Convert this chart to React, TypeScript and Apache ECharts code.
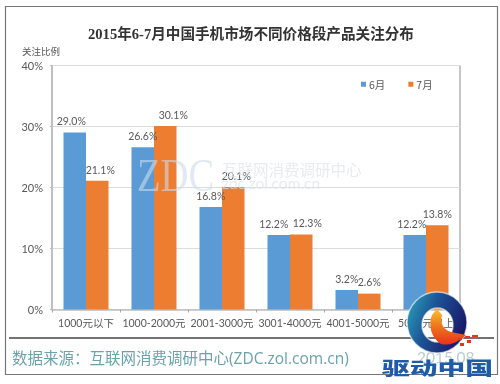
import React, { useEffect, useRef } from "react";
import * as echarts from "echarts";

const categories = ["1000元以下", "1000-2000元", "2001-3000元", "3001-4000元", "4001-5000元", "5000元以上"];
const june = [29.0, 26.6, 16.8, 12.2, 3.2, 12.2];
const july = [21.1, 30.1, 20.1, 12.3, 2.6, 13.8];
const yTicks = [0, 10, 20, 30, 40];
const juneLabelShift = [-3.5, 0, 0, -5, 0, -3];
const julyLabelShift = [3, 8, 3, 6, 0, 0];

const LATIN = 'Lato, "Noto Sans CJK SC", sans-serif';
const CJK = '"Noto Sans CJK SC", sans-serif';

const ringPath =
  "M407 322.5 A30 30.5 0 1 1 467 322.5 A30 30.5 0 1 1 407 322.5 Z M422 325 A15.5 17 0 1 0 453 325 A15.5 17 0 1 0 422 325 Z";
const birdPath =
  "M437 309 L442 315 C440 322 442 329 451 332 L466 335 C458 343 448 346 441 344 C431 338 428 325 432 315 Z";
const dotsPath =
  "M458 338h4v2h-4z M465 336h5v2h-5z M472 335h6v2h-6z M460 343h4v3h-4z M467 340h4v3h-4z";
echarts.graphic.registerShape("qRing", echarts.graphic.extendPath(ringPath, {}) as any);
echarts.graphic.registerShape("qBird", echarts.graphic.extendPath(birdPath, {}) as any);
echarts.graphic.registerShape("qDots", echarts.graphic.extendPath(dotsPath, {}) as any);

function series(name: string, values: number[], shift: number[], color: string) {
  return {
    name,
    type: "bar",
    barWidth: 22.5,
    barGap: "0%",
    itemStyle: { color },
    data: values.map((value, i) => ({
      value,
      label: { offset: [shift[i], -1] },
    })),
    label: {
      show: true,
      position: "top",
      distance: 5,
      color: "#595959",
      fontFamily: LATIN,
      fontSize: 10.5,
      formatter: (p: any) => `${Number(p.value).toFixed(1)}%`,
    },
  };
}

export default function App() {
  const ref = useRef<HTMLDivElement>(null);
  useEffect(() => {
    document.body.style.margin = "0";
    const chart = echarts.init(ref.current!, undefined, { renderer: "svg" });
    chart.setOption({
      animation: false,
      backgroundColor: "#fff",
      title: {
        text: "2015年6-7月中国手机市场不同价格段产品关注分布",
        left: 83,
        top: 22,
        textStyle: {
          fontFamily: '"Liberation Serif", "Noto Sans CJK SC", serif',
          fontSize: 14.6,
          fontWeight: "bold",
          color: "#333",
        },
      },
      legend: {
        left: 356,
        top: 74,
        icon: "rect",
        itemWidth: 5,
        itemHeight: 5,
        itemGap: 23,
        textStyle: { fontFamily: CJK, fontSize: 10.5, color: "#595959", padding: [0, 0, 0, -2] },
        data: ["6月", "7月"],
      },
      grid: {
        left: 52,
        right: 40,
        top: 65.5,
        bottom: 74.5,
        show: true,
        borderColor: "#8c8c8c",
        borderWidth: 1,
      },
      xAxis: {
        type: "category",
        data: categories,
        axisLine: { lineStyle: { color: "#bdbdbd", width: 1.5 } },
        axisTick: { show: true, length: 3, lineStyle: { color: "#a6a6a6" } },
        axisLabel: { color: "#595959", fontFamily: LATIN, fontSize: 10.5, margin: 8, interval: 0 },
      },
      yAxis: {
        type: "value",
        min: yTicks[0],
        max: yTicks[yTicks.length - 1],
        interval: 10,
        name: "关注比例",
        nameGap: 10,
        nameTextStyle: { color: "#595959", fontFamily: CJK, fontSize: 9.5, padding: [0, 22, 0, 0] },
        axisLine: { show: true, lineStyle: { color: "#bdbdbd", width: 1.5 } },
        axisTick: { show: true, length: 2, lineStyle: { color: "#bdbdbd" } },
        splitLine: { lineStyle: { color: "#dcdcdc", width: 1 } },
        axisLabel: {
          color: "#595959",
          fontFamily: LATIN,
          fontSize: 11,
          margin: 9,
          formatter: "{value}%",
        },
      },
      series: [
        series("6月", june, juneLabelShift, "#5b9bd5"),
        series("7月", july, julyLabelShift, "#ed7d31"),
      ],
      graphic: [
        {
          type: "rect",
          z: 0,
          shape: { x: 5.5, y: 6.5, width: 492, height: 368 },
          style: { fill: "none", stroke: "#777", lineWidth: 1.2 },
        },
        {
          type: "line",
          z: 0,
          shape: { x1: 9, y1: 338, x2: 494, y2: 338 },
          style: { stroke: "#444", lineWidth: 1.5 },
        },
        {
          type: "text",
          z: 0,
          x: 12,
          y: 350,
          style: {
            text: "数据来源：互联网消费调研中心(ZDC.zol.com.cn)",
            fontFamily: '"Open Sans", "Noto Sans CJK SC", sans-serif',
            fontSize: 15.5,
            fill: "#6aa3ae",
          },
        },
        {
          type: "text",
          z: 0,
          x: 417,
          y: 349,
          style: { text: "2015.08", fontFamily: LATIN, fontSize: 15.5, fill: "#b8cdd0" },
        },
        {
          type: "text",
          z: 50,
          x: 137,
          y: 152,
          scaleX: 0.84,
          style: {
            text: "ZDC",
            fontFamily: '"Liberation Serif", serif',
            fontSize: 46,
            fill: "rgba(205,220,235,0.6)",
          },
        },
        {
          type: "text",
          z: 50,
          x: 222,
          y: 161,
          style: {
            text: "互联网消费调研中心",
            fontFamily: CJK,
            fontSize: 15.5,
            fill: "rgba(222,227,232,0.7)",
          },
        },
        {
          type: "text",
          z: 50,
          x: 222,
          y: 175,
          style: {
            text: "zdc.zol.com.cn",
            fontFamily: LATIN,
            fontSize: 15.5,
            fill: "rgba(222,227,232,0.7)",
          },
        },
        {
          type: "qRing",
          z: 60,
          style: {
            stroke: "rgba(255,255,255,0.6)",
            lineWidth: 1.5,
            fill: new echarts.graphic.LinearGradient(0, 0.2, 1, 0.6, [
              { offset: 0, color: "#2a9cb8" },
              { offset: 0.4, color: "#1c5596" },
              { offset: 1, color: "#1a1466" },
            ]),
          },
        },
        {
          type: "qBird",
          z: 61,
          style: {
            fill: new echarts.graphic.LinearGradient(0, 0, 0, 1, [
              { offset: 0, color: "#f8c02a" },
              { offset: 0.45, color: "#f07a1e" },
              { offset: 1, color: "#e8321c" },
            ]),
          },
        },
        { type: "qDots", z: 61, style: { fill: "#e8321c" } },
        {
          type: "text",
          z: 62,
          x: 382,
          y: 358,
          scaleY: 0.65,
          style: {
            text: "驱动中国",
            fontFamily: CJK,
            fontWeight: 900,
            fontSize: 27.8,
            fill: "#1f5ba8",
          },
        },
      ],
    });
    return () => chart.dispose();
  }, []);
  return <div ref={ref} style={{ width: 500, height: 384, filter: "blur(0.5px)" }} />;
}
